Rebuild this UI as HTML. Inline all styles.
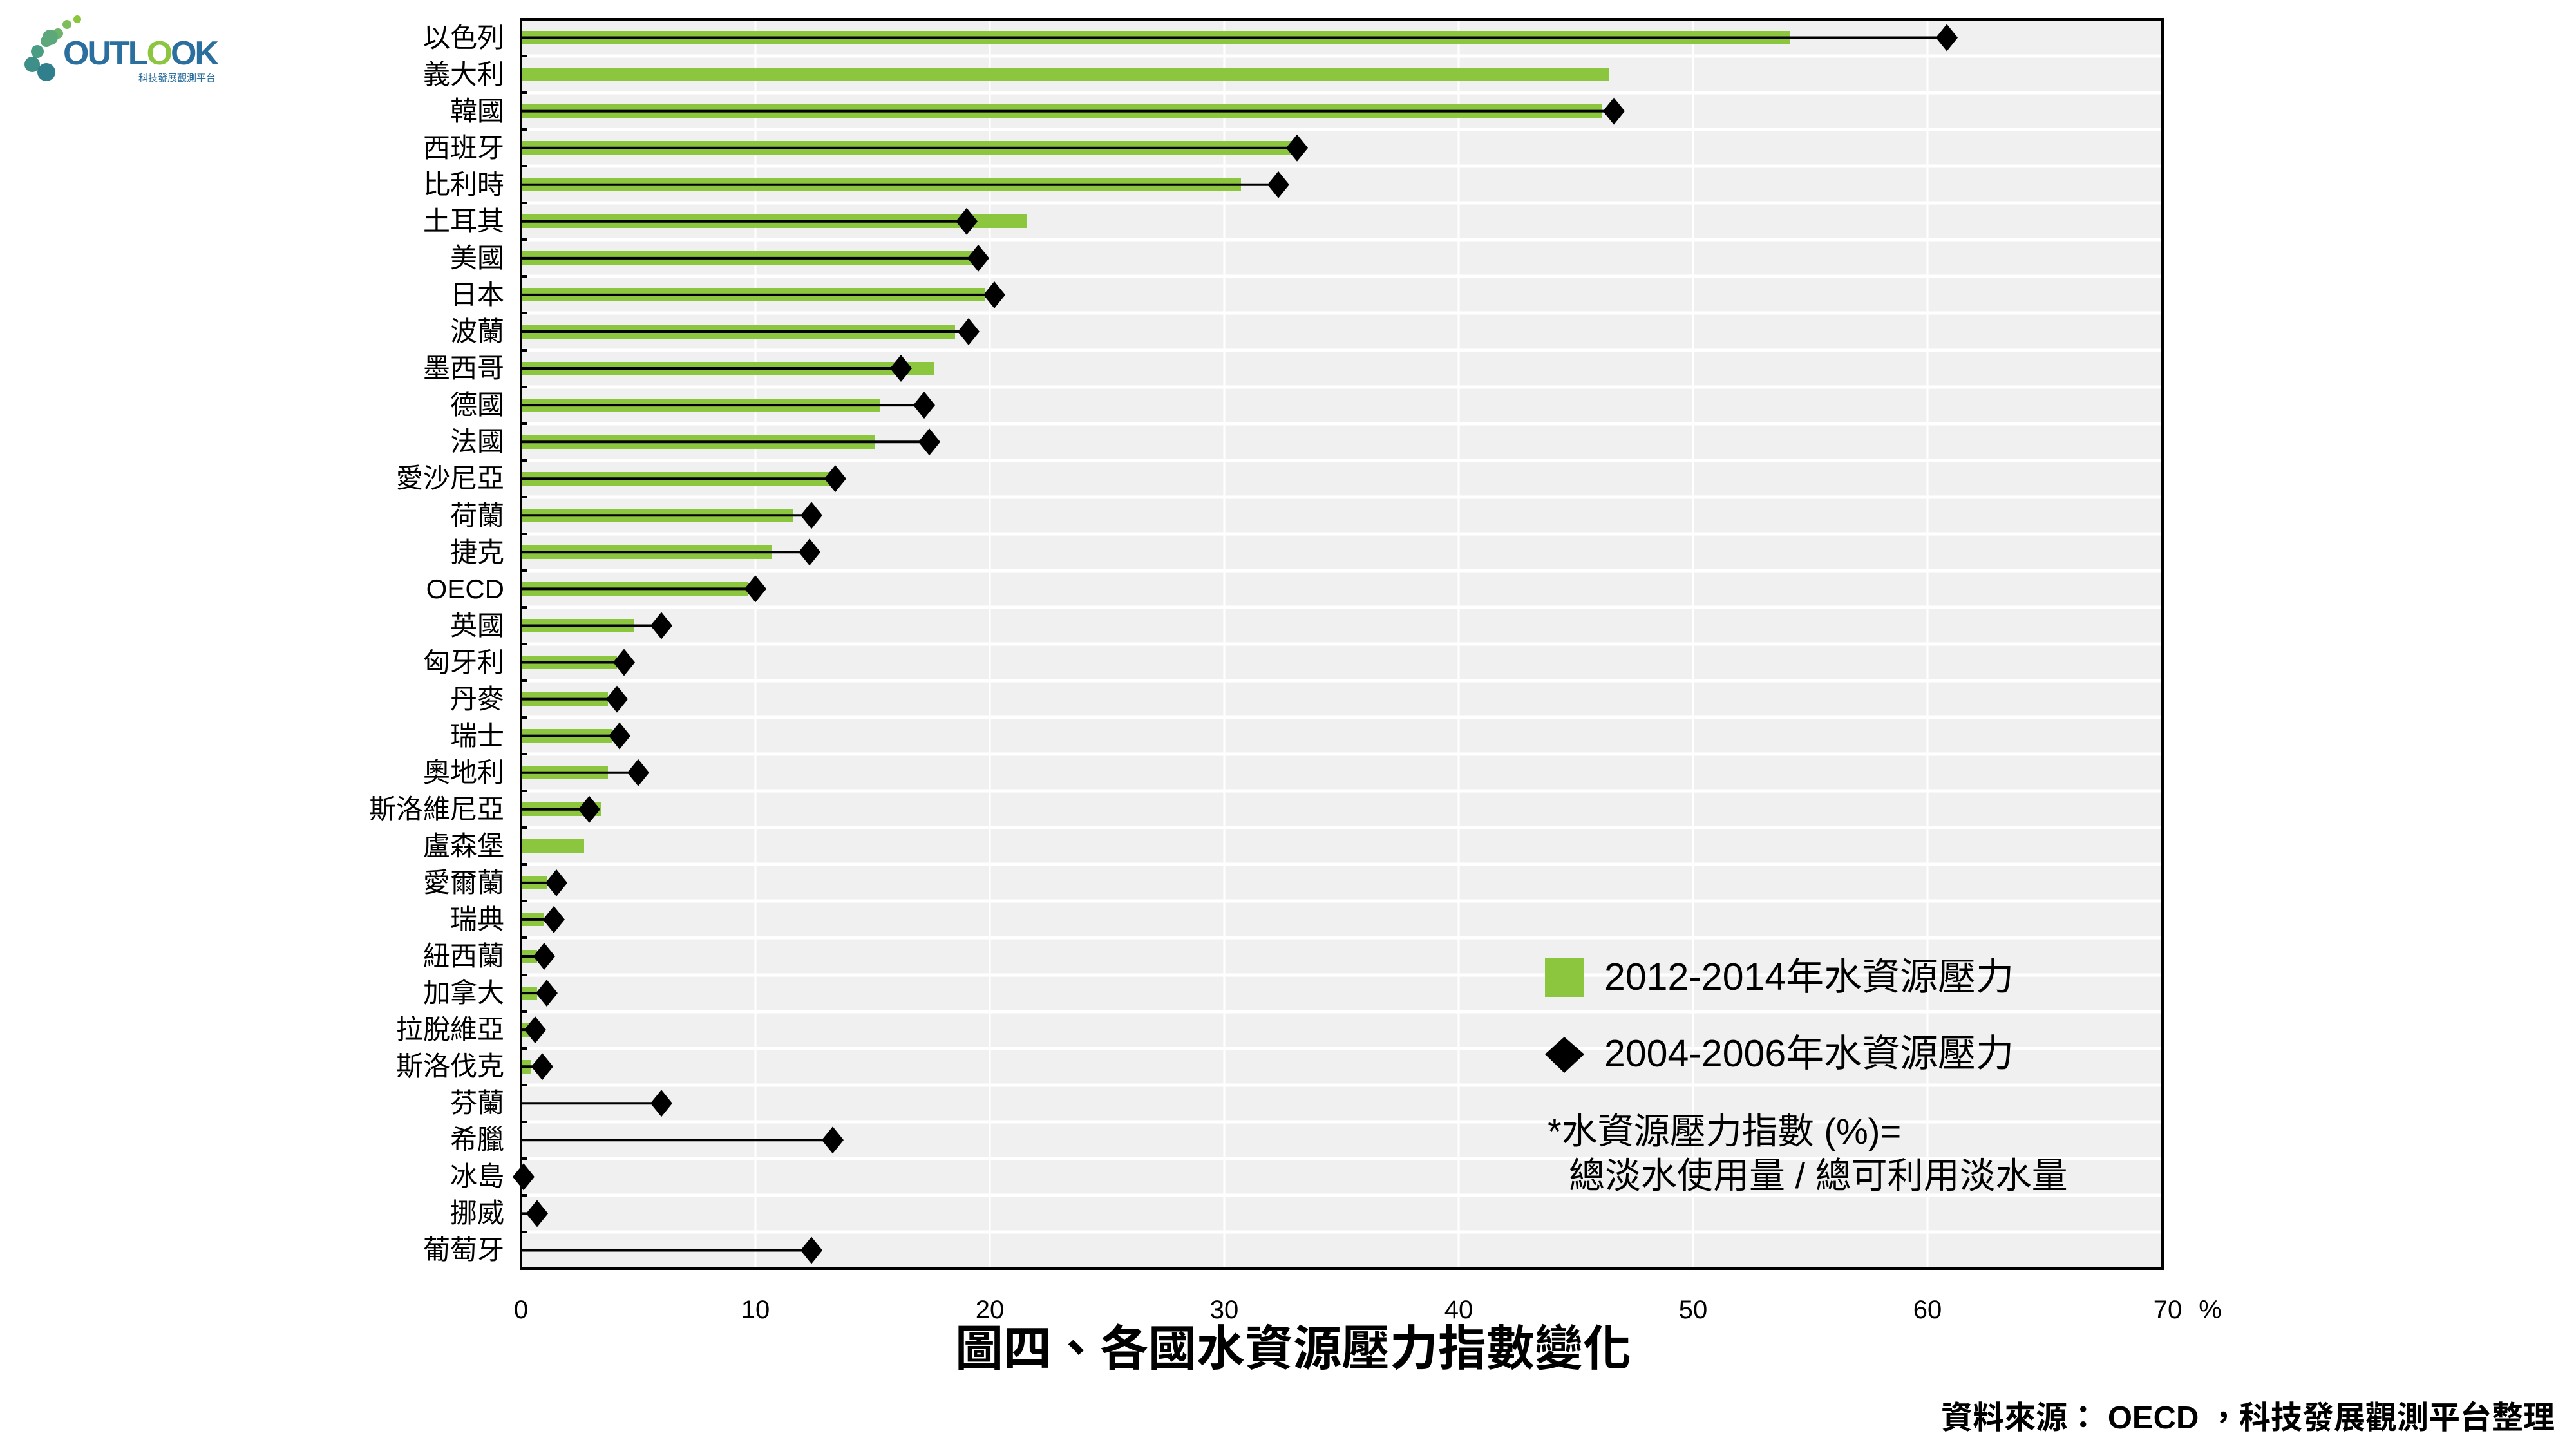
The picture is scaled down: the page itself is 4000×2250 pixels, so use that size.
<!DOCTYPE html>
<html><head><meta charset="utf-8"><style>
html,body{margin:0;padding:0;background:#fff;}
svg{display:block;}
text{font-family:"Liberation Sans","Noto Sans CJK TC",sans-serif;}
</style></head><body>
<svg width="4000" height="2250" viewBox="0 0 4000 2250" xmlns="http://www.w3.org/2000/svg">
<defs><polygon id="d" points="0,-21 17,0 0,21 -17,0" fill="#000"/></defs>
<!-- logo -->
<g>
<circle cx="120" cy="30" r="6" fill="#8cc63f"/><circle cx="104" cy="38" r="7" fill="#7cbf5a"/>
<circle cx="90" cy="52" r="8" fill="#6db36a"/><circle cx="72" cy="64" r="9" fill="#5aa878"/>
<circle cx="58" cy="80" r="10" fill="#4a9c82"/><circle cx="50" cy="100" r="12" fill="#3e8f88"/>
<circle cx="72" cy="112" r="14" fill="#2f7f8c"/><circle cx="78" cy="58" r="12" fill="#5ca87a"/>
<text x="98" y="100" font-size="52" font-weight="bold" fill="#2a6f9e" font-family="Liberation Sans,sans-serif" letter-spacing="-3">OUTL<tspan fill="#8cc63f">O</tspan>OK</text>
<text x="215" y="126" font-size="15" fill="#2a6f9e">科技發展觀測平台</text>
</g>
<!-- plot bg -->
<rect x="809" y="30" width="2549" height="1940" fill="#f0f0f0"/>
<g stroke="#ffffff" stroke-width="3">
<line x1="1173" y1="30" x2="1173" y2="1970"/><line x1="1537" y1="30" x2="1537" y2="1970"/>
<line x1="1901" y1="30" x2="1901" y2="1970"/><line x1="2265" y1="30" x2="2265" y2="1970"/>
<line x1="2629" y1="30" x2="2629" y2="1970"/><line x1="2993" y1="30" x2="2993" y2="1970"/>
</g>
<g stroke="#ffffff" stroke-width="5">
<line x1="809" y1="87" x2="3358" y2="87"/><line x1="809" y1="144" x2="3358" y2="144"/>
<line x1="809" y1="201" x2="3358" y2="201"/><line x1="809" y1="258" x2="3358" y2="258"/>
<line x1="809" y1="315" x2="3358" y2="315"/><line x1="809" y1="372" x2="3358" y2="372"/>
<line x1="809" y1="429" x2="3358" y2="429"/><line x1="809" y1="486" x2="3358" y2="486"/>
<line x1="809" y1="544" x2="3358" y2="544"/><line x1="809" y1="601" x2="3358" y2="601"/>
<line x1="809" y1="658" x2="3358" y2="658"/><line x1="809" y1="715" x2="3358" y2="715"/>
<line x1="809" y1="772" x2="3358" y2="772"/><line x1="809" y1="829" x2="3358" y2="829"/>
<line x1="809" y1="886" x2="3358" y2="886"/><line x1="809" y1="943" x2="3358" y2="943"/>
<line x1="809" y1="1000" x2="3358" y2="1000"/><line x1="809" y1="1057" x2="3358" y2="1057"/>
<line x1="809" y1="1114" x2="3358" y2="1114"/><line x1="809" y1="1171" x2="3358" y2="1171"/>
<line x1="809" y1="1228" x2="3358" y2="1228"/><line x1="809" y1="1285" x2="3358" y2="1285"/>
<line x1="809" y1="1342" x2="3358" y2="1342"/><line x1="809" y1="1399" x2="3358" y2="1399"/>
<line x1="809" y1="1456" x2="3358" y2="1456"/><line x1="809" y1="1514" x2="3358" y2="1514"/>
<line x1="809" y1="1571" x2="3358" y2="1571"/><line x1="809" y1="1628" x2="3358" y2="1628"/>
<line x1="809" y1="1685" x2="3358" y2="1685"/><line x1="809" y1="1742" x2="3358" y2="1742"/>
<line x1="809" y1="1799" x2="3358" y2="1799"/><line x1="809" y1="1856" x2="3358" y2="1856"/>
<line x1="809" y1="1913" x2="3358" y2="1913"/>
</g>
<!-- bars -->
<g fill="#8cc63f">
<rect x="809" y="48" width="1970" height="21"/>
<rect x="809" y="105" width="1689" height="21"/>
<rect x="809" y="162" width="1678" height="21"/>
<rect x="809" y="219" width="1198" height="21"/>
<rect x="809" y="276" width="1118" height="21"/>
<rect x="809" y="333" width="786" height="21"/>
<rect x="809" y="390" width="703" height="21"/>
<rect x="809" y="447" width="721" height="21"/>
<rect x="809" y="505" width="674" height="21"/>
<rect x="809" y="562" width="641" height="21"/>
<rect x="809" y="619" width="557" height="21"/>
<rect x="809" y="676" width="550" height="21"/>
<rect x="809" y="733" width="481" height="21"/>
<rect x="809" y="790" width="422" height="21"/>
<rect x="809" y="847" width="390" height="21"/>
<rect x="809" y="904" width="353" height="21"/>
<rect x="809" y="961" width="175" height="21"/>
<rect x="809" y="1018" width="149" height="21"/>
<rect x="809" y="1075" width="135" height="21"/>
<rect x="809" y="1132" width="142" height="21"/>
<rect x="809" y="1189" width="135" height="21"/>
<rect x="809" y="1246" width="124" height="21"/>
<rect x="809" y="1303" width="98" height="21"/>
<rect x="809" y="1360" width="40" height="21"/>
<rect x="809" y="1417" width="36" height="21"/>
<rect x="809" y="1475" width="25" height="21"/>
<rect x="809" y="1532" width="25" height="21"/>
<rect x="809" y="1589" width="13" height="21"/>
<rect x="809" y="1646" width="15" height="21"/>
</g>
<!-- lines -->
<g stroke="#000" stroke-width="4">
<line x1="809" y1="58.5" x2="3023" y2="58.5"/>
<line x1="809" y1="172.6" x2="2506" y2="172.6"/>
<line x1="809" y1="229.7" x2="2014" y2="229.7"/>
<line x1="809" y1="286.7" x2="1985" y2="286.7"/>
<line x1="809" y1="343.8" x2="1501" y2="343.8"/>
<line x1="809" y1="400.9" x2="1519" y2="400.9"/>
<line x1="809" y1="457.9" x2="1544" y2="457.9"/>
<line x1="809" y1="515" x2="1504" y2="515"/>
<line x1="809" y1="572" x2="1399" y2="572"/>
<line x1="809" y1="629.1" x2="1435" y2="629.1"/>
<line x1="809" y1="686.2" x2="1443" y2="686.2"/>
<line x1="809" y1="743.2" x2="1297" y2="743.2"/>
<line x1="809" y1="800.3" x2="1260" y2="800.3"/>
<line x1="809" y1="857.3" x2="1257" y2="857.3"/>
<line x1="809" y1="914.4" x2="1173" y2="914.4"/>
<line x1="809" y1="971.5" x2="1027" y2="971.5"/>
<line x1="809" y1="1028.5" x2="969" y2="1028.5"/>
<line x1="809" y1="1085.6" x2="958" y2="1085.6"/>
<line x1="809" y1="1142.6" x2="962" y2="1142.6"/>
<line x1="809" y1="1199.7" x2="991" y2="1199.7"/>
<line x1="809" y1="1256.8" x2="915" y2="1256.8"/>
<line x1="809" y1="1370.9" x2="864" y2="1370.9"/>
<line x1="809" y1="1427.9" x2="860" y2="1427.9"/>
<line x1="809" y1="1485" x2="845" y2="1485"/>
<line x1="809" y1="1542.1" x2="849" y2="1542.1"/>
<line x1="809" y1="1599.1" x2="831" y2="1599.1"/>
<line x1="809" y1="1656.2" x2="842" y2="1656.2"/>
<line x1="809" y1="1713.2" x2="1027" y2="1713.2"/>
<line x1="809" y1="1770.3" x2="1293" y2="1770.3"/>
<line x1="809" y1="1884.4" x2="834" y2="1884.4"/>
<line x1="809" y1="1941.5" x2="1260" y2="1941.5"/>
</g>
<!-- diamonds -->
<use href="#d" x="3023" y="58.5"/><use href="#d" x="2506" y="172.6"/>
<use href="#d" x="2014" y="229.7"/><use href="#d" x="1985" y="286.7"/>
<use href="#d" x="1501" y="343.8"/><use href="#d" x="1519" y="400.9"/>
<use href="#d" x="1544" y="457.9"/><use href="#d" x="1504" y="515"/>
<use href="#d" x="1399" y="572"/><use href="#d" x="1435" y="629.1"/>
<use href="#d" x="1443" y="686.2"/><use href="#d" x="1297" y="743.2"/>
<use href="#d" x="1260" y="800.3"/><use href="#d" x="1257" y="857.3"/>
<use href="#d" x="1173" y="914.4"/><use href="#d" x="1027" y="971.5"/>
<use href="#d" x="969" y="1028.5"/><use href="#d" x="958" y="1085.6"/>
<use href="#d" x="962" y="1142.6"/><use href="#d" x="991" y="1199.7"/>
<use href="#d" x="915" y="1256.8"/><use href="#d" x="864" y="1370.9"/>
<use href="#d" x="860" y="1427.9"/><use href="#d" x="845" y="1485"/>
<use href="#d" x="849" y="1542.1"/><use href="#d" x="831" y="1599.1"/>
<use href="#d" x="842" y="1656.2"/><use href="#d" x="1027" y="1713.2"/>
<use href="#d" x="1293" y="1770.3"/><use href="#d" x="813" y="1827.4"/>
<use href="#d" x="834" y="1884.4"/><use href="#d" x="1260" y="1941.5"/>
<!-- left ticks -->
<g stroke="#000" stroke-width="4">
<line x1="809" y1="87" x2="819" y2="87"/><line x1="809" y1="144" x2="819" y2="144"/>
<line x1="809" y1="201" x2="819" y2="201"/><line x1="809" y1="258" x2="819" y2="258"/>
<line x1="809" y1="315" x2="819" y2="315"/><line x1="809" y1="372" x2="819" y2="372"/>
<line x1="809" y1="429" x2="819" y2="429"/><line x1="809" y1="486" x2="819" y2="486"/>
<line x1="809" y1="544" x2="819" y2="544"/><line x1="809" y1="601" x2="819" y2="601"/>
<line x1="809" y1="658" x2="819" y2="658"/><line x1="809" y1="715" x2="819" y2="715"/>
<line x1="809" y1="772" x2="819" y2="772"/><line x1="809" y1="829" x2="819" y2="829"/>
<line x1="809" y1="886" x2="819" y2="886"/><line x1="809" y1="943" x2="819" y2="943"/>
<line x1="809" y1="1000" x2="819" y2="1000"/><line x1="809" y1="1057" x2="819" y2="1057"/>
<line x1="809" y1="1114" x2="819" y2="1114"/><line x1="809" y1="1171" x2="819" y2="1171"/>
<line x1="809" y1="1228" x2="819" y2="1228"/><line x1="809" y1="1285" x2="819" y2="1285"/>
<line x1="809" y1="1342" x2="819" y2="1342"/><line x1="809" y1="1399" x2="819" y2="1399"/>
<line x1="809" y1="1456" x2="819" y2="1456"/><line x1="809" y1="1514" x2="819" y2="1514"/>
<line x1="809" y1="1571" x2="819" y2="1571"/><line x1="809" y1="1628" x2="819" y2="1628"/>
<line x1="809" y1="1685" x2="819" y2="1685"/><line x1="809" y1="1742" x2="819" y2="1742"/>
<line x1="809" y1="1799" x2="819" y2="1799"/><line x1="809" y1="1856" x2="819" y2="1856"/>
<line x1="809" y1="1913" x2="819" y2="1913"/>
</g>
<!-- frame -->
<rect x="809" y="30" width="2549" height="1940" fill="none" stroke="#000" stroke-width="4"/>
<!-- y labels -->
<g font-size="42" text-anchor="end" fill="#000">
<text x="783" y="73">以色列</text><text x="783" y="130">義大利</text>
<text x="783" y="187">韓國</text><text x="783" y="244">西班牙</text>
<text x="783" y="301">比利時</text><text x="783" y="358">土耳其</text>
<text x="783" y="415">美國</text><text x="783" y="472">日本</text>
<text x="783" y="529">波蘭</text><text x="783" y="586">墨西哥</text>
<text x="783" y="643">德國</text><text x="783" y="700">法國</text>
<text x="783" y="757">愛沙尼亞</text><text x="783" y="815">荷蘭</text>
<text x="783" y="872">捷克</text><text x="783" y="929">OECD</text>
<text x="783" y="986">英國</text><text x="783" y="1043">匈牙利</text>
<text x="783" y="1100">丹麥</text><text x="783" y="1157">瑞士</text>
<text x="783" y="1214">奧地利</text><text x="783" y="1271">斯洛維尼亞</text>
<text x="783" y="1328">盧森堡</text><text x="783" y="1385">愛爾蘭</text>
<text x="783" y="1442">瑞典</text><text x="783" y="1499">紐西蘭</text>
<text x="783" y="1556">加拿大</text><text x="783" y="1613">拉脫維亞</text>
<text x="783" y="1670">斯洛伐克</text><text x="783" y="1727">芬蘭</text>
<text x="783" y="1784">希臘</text><text x="783" y="1841">冰島</text>
<text x="783" y="1898">挪威</text><text x="783" y="1955">葡萄牙</text>
</g>
<!-- x ticks -->
<g font-size="40" text-anchor="middle" fill="#000">
<text x="809" y="2047">0</text><text x="1173" y="2047">10</text><text x="1537" y="2047">20</text>
<text x="1901" y="2047">30</text><text x="2265" y="2047">40</text><text x="2629" y="2047">50</text>
<text x="2993" y="2047">60</text><text x="3366" y="2047">70</text><text x="3432" y="2047">%</text>
</g>
<text x="2008" y="2120" font-size="75" font-weight="bold" text-anchor="middle">圖四、各國水資源壓力指數變化</text>
<text x="3967" y="2218" font-size="49" font-weight="bold" text-anchor="end">資料來源： OECD ，科技發展觀測平台整理</text>
<!-- legend -->
<rect x="2399" y="1487" width="61" height="61" fill="#8cc63f"/>
<text x="2491" y="1537" font-size="59">2012-2014年水資源壓力</text>
<polygon points="2429,1610 2460,1637 2429,1666 2399,1637" fill="#000"/>
<text x="2491" y="1656" font-size="59">2004-2006年水資源壓力</text>
<text x="2403" y="1776" font-size="56">*水資源壓力指數 (%)=</text>
<text x="2436" y="1845" font-size="56">總淡水使用量 / 總可利用淡水量</text>
</svg>
</body></html>
